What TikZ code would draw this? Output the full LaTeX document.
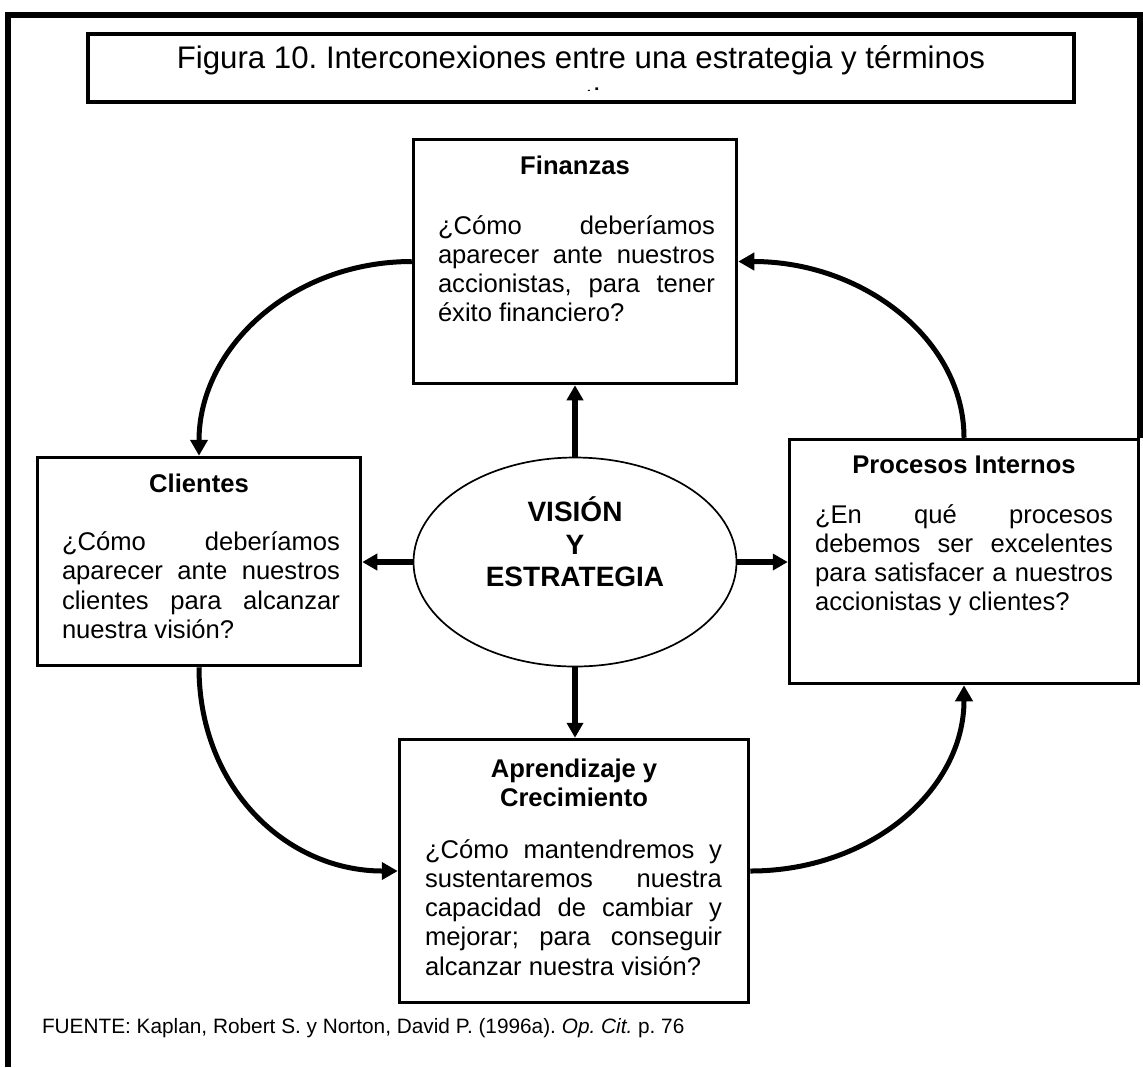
\documentclass[tikz,border=0pt]{standalone}
\usepackage{fontspec}
\setmainfont{Liberation Sans}
\usetikzlibrary{arrows.meta,shapes.geometric}
\newcommand{\JL}[1]{\makebox[\linewidth][s]{#1}\\}
\newcommand{\bodyfont}{\fontsize{12.8pt}{14.65pt}\selectfont}
\newcommand{\bodypar}[2]{\parbox[t]{#1}{\bodyfont #2}}
\begin{document}
\frenchspacing
\begin{tikzpicture}[x=0.5pt,y=-0.5pt,
  box/.style={draw, line width=1.75pt, inner sep=0pt},
  txt/.style={inner sep=0pt, outer sep=0pt},
  head/.style={txt, anchor=base, font=\fontsize{12.8pt}{14.65pt}\selectfont\bfseries},
  body/.style={txt, anchor=base west},
  titlefont/.style={txt, anchor=base, font=\fontsize{15.6pt}{20pt}\selectfont},
  sarrow/.style={line width=3pt, -{Triangle[length=7.5pt,width=8pt]}},
  carrow/.style={line width=2.5pt, -{Triangle[length=8pt,width=8.5pt]}},
  frame/.style={line width=3.25pt, line join=miter}]
\useasboundingbox (0,0) rectangle (1143,1067);
\fill[white] (0,0) rectangle (1143,1067);
% outer frame
\draw[frame] (8,1067) -- (8,15) -- (1140,15) -- (1140,438);
% title
\begin{scope}
  \clip (87,32) rectangle (1075,90.5);
  \node[titlefont] (title) at (581,68) {Figura 10. Interconexiones entre una estrategia y términos};
  \node[titlefont] (title2) at (577,110) {operativos};
\end{scope}
\node[box, line width=2pt, minimum width=493pt, minimum height=34pt] (titlebox) at (581,67.5) {};
% boxes
\node[box, minimum width=161.5pt, minimum height=122pt] (fin) at (575,261.5) {};
\node[box, minimum width=161.5pt, minimum height=104pt] (cli) at (199,561.5) {};
\node[box, minimum width=174.5pt, minimum height=122pt] (pro) at (964,561.5) {};
\node[box, minimum width=174.5pt, minimum height=131.5pt] (apr) at (574,871) {};
\node[draw, ellipse, line width=0.85pt, inner sep=0pt, minimum width=161.5pt, minimum height=104.5pt] (ell) at (575,562) {};
% texts
\node[head] (finh) at (575,174) {Finanzas};
\node[body] (finb) at (438,234) {\bodypar{138.5pt}{\JL{¿Cómo deberíamos}\JL{aparecer ante nuestros}\JL{accionistas, para tener}éxito financiero?}};
\node[head] (clih) at (199,492.5) {Clientes};
\node[body] (clib) at (62,550.5) {\bodypar{139pt}{\JL{¿Cómo deberíamos}\JL{aparecer ante nuestros}\JL{clientes para alcanzar}nuestra visión?}};
\node[head] (proh) at (964,473) {Procesos Internos};
\node[body] (prob) at (815,523) {\bodypar{149pt}{\JL{¿En qué procesos}\JL{debemos ser excelentes}\JL{para satisfacer a nuestros}accionistas y clientes?}};
\node[txt, anchor=base] (aprh) at (574,777) {\parbox[t]{150pt}{\centering\fontsize{12.8pt}{14.65pt}\selectfont\bfseries Aprendizaje y\\Crecimiento}};
\node[body] (aprb) at (425,858) {\bodypar{148.5pt}{\JL{¿Cómo mantendremos y}\JL{sustentaremos nuestra}\JL{capacidad de cambiar y}\JL{mejorar; para conseguir}alcanzar nuestra visión?}};
\node[txt, anchor=base] (ellt) at (575,521.7) {\parbox[t]{150pt}{\centering\fontsize{14pt}{16.25pt}\selectfont\bfseries VISIÓN\\Y\\ESTRATEGIA}};
% straight arrows
\draw[sarrow] (ell.north) -- (fin.south);
\draw[sarrow] (ell.south) -- (ell.south |- apr.north);
\draw[sarrow] (ell.west) -- (ell.west -| cli.east);
\draw[sarrow] (ell.east) -- (ell.east -| pro.west);
% curved arrows
\draw[carrow] (fin.west) .. controls +(-120,0) and +(0,-108) .. (cli.north);
\draw[carrow] (pro.north) .. controls +(0,-98) and +(125,0) .. (fin.east);
\draw[carrow] (cli.south) .. controls +(0,120) and +(-112,0) .. (apr.west);
\draw[carrow] (apr.east) .. controls +(120,0) and +(0,105) .. (pro.south);
% footer
\node[body] (src) at (42,1033) {\fontsize{10.4pt}{12pt}\selectfont FUENTE: Kaplan, Robert S. y Norton, David P. (1996a). \textit{Op. Cit.} p. 76};
\end{tikzpicture}
\end{document}
